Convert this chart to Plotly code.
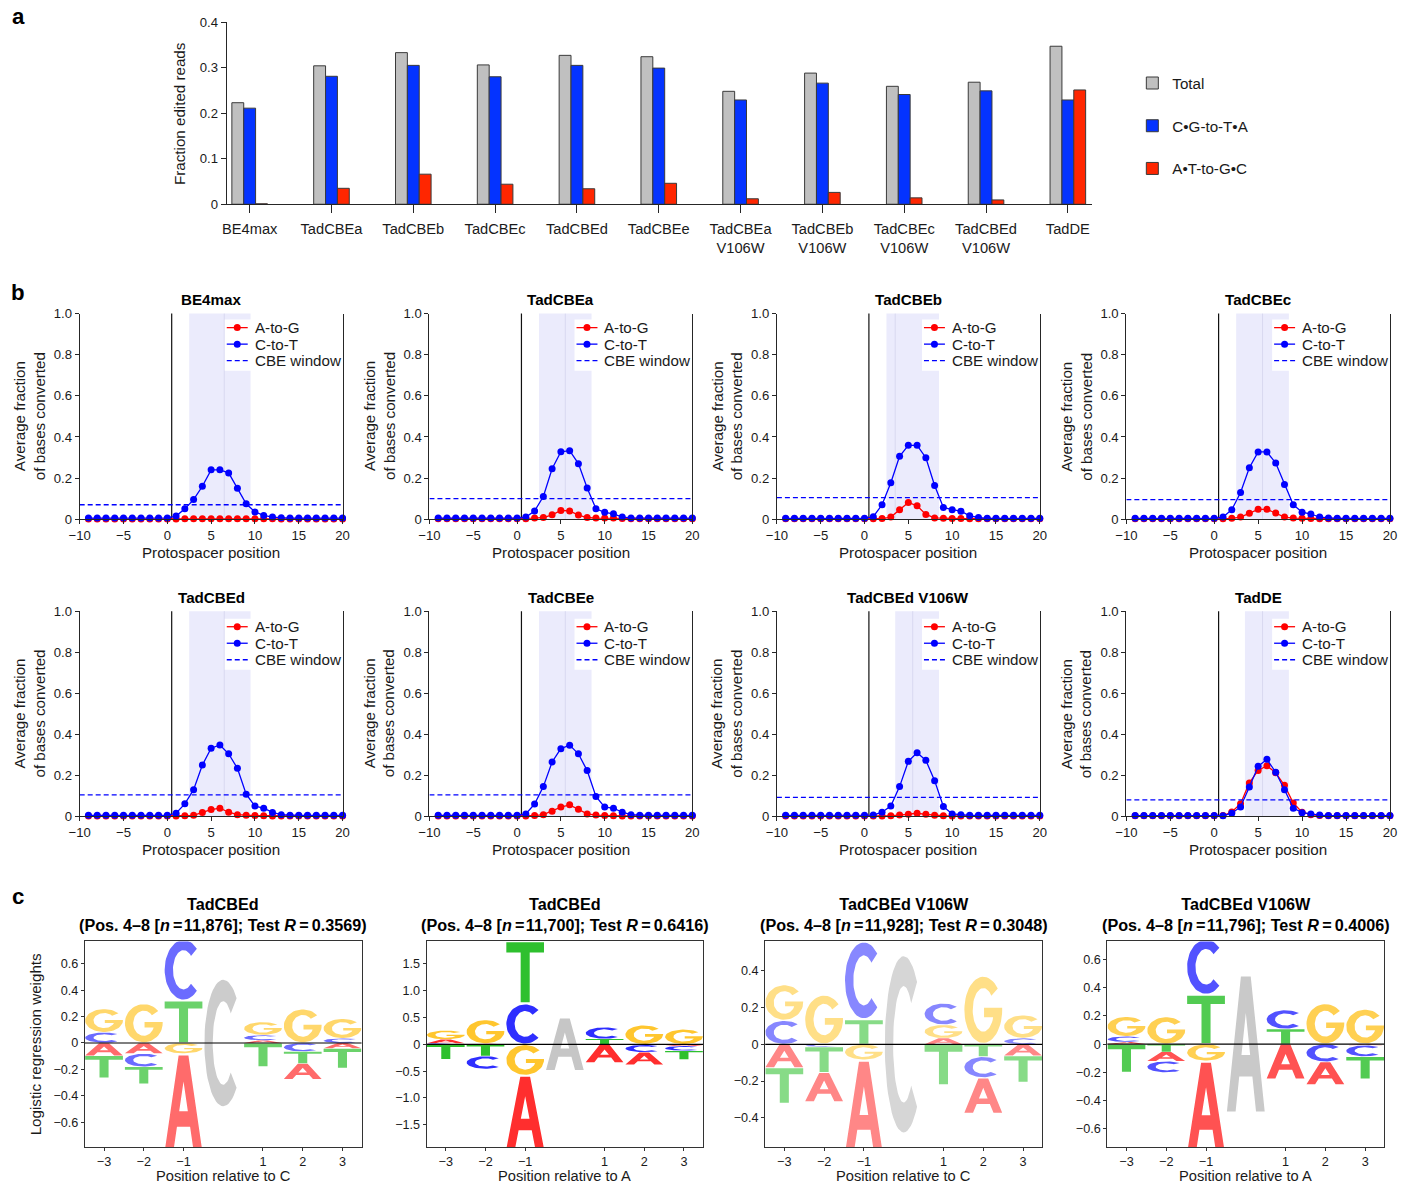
import math
import plotly.graph_objects as go

# The photographed image is the 1411x1191 page seen through a slight shrink
# (page + 8px frame -> 1411x1191); positions below are target image pixels and
# are converted to page/paper coordinates by X() / Y().
W, H = 1411, 1191
FRAME = 8
SX = W / (W + 2 * FRAME)
SY = H / (H + 2 * FRAME)
FS = 1.0 / SX
FONT = "Liberation Sans"
AX = "#262626"
TXT = "#1a1a1a"


def X(t):
    return (t / SX - FRAME) / W


def Y(t):
    return 1 - (t / SY - FRAME) / H


# ---------------- panel a data ----------------
editors_a = ["BE4max", "TadCBEa", "TadCBEb", "TadCBEc", "TadCBEd", "TadCBEe",
             "TadCBEa<br>V106W", "TadCBEb<br>V106W", "TadCBEc<br>V106W",
             "TadCBEd<br>V106W", "TadDE"]
frac_total = [0.223, 0.304, 0.333, 0.306, 0.327, 0.324, 0.248, 0.288, 0.259, 0.268, 0.347]
frac_cg_ta = [0.211, 0.281, 0.305, 0.280, 0.305, 0.299, 0.229, 0.266, 0.241, 0.249, 0.229]
frac_at_gc = [0.001, 0.035, 0.066, 0.044, 0.034, 0.046, 0.012, 0.026, 0.014, 0.0095, 0.251]
a_yticks = [0, 0.1, 0.2, 0.3, 0.4]
a_yticktext = ["0", "0.1", "0.2", "0.3", "0.4"]

# ---------------- panel b data ----------------
positions_b = [-9, -8, -7, -6, -5, -4, -3, -2, -1, 0,
               1, 2, 3, 4, 5, 6, 7, 8, 9, 10,
               11, 12, 13, 14, 15, 16, 17, 18, 19, 20]
b_xrange = [-10, 20]
b_xticks = [-10, -5, 0, 5, 10, 15, 20]
b_yticks = [0, 0.2, 0.4, 0.6, 0.8, 1.0]
b_yticktext = ["0", "0.2", "0.4", "0.6", "0.8", "1.0"]

ctot_be4max = [0.005, 0.005, 0.005, 0.005, 0.005, 0.005, 0.005, 0.005, 0.005, 0.006,
               0.015, 0.05, 0.095, 0.16, 0.24, 0.24, 0.225, 0.15, 0.075, 0.035,
               0.018, 0.01, 0.007, 0.005, 0.005, 0.005, 0.005, 0.005, 0.005, 0.005]
atog_be4max = [0.001, 0.001, 0.001, 0.001, 0.001, 0.001, 0.001, 0.001, 0.001, 0.001,
               0.001, 0.002, 0.002, 0.002, 0.002, 0.002, 0.002, 0.002, 0.002, 0.002,
               0.002, 0.002, 0.001, 0.001, 0.001, 0.001, 0.001, 0.001, 0.001, 0.001]

ctot_tadcbea = [0.005, 0.005, 0.005, 0.005, 0.005, 0.005, 0.005, 0.005, 0.005, 0.005,
                0.01, 0.04, 0.11, 0.245, 0.328, 0.333, 0.27, 0.152, 0.05, 0.033,
                0.026, 0.01, 0.006, 0.005, 0.005, 0.005, 0.005, 0.005, 0.005, 0.005]
atog_tadcbea = [0.002, 0.002, 0.002, 0.002, 0.002, 0.002, 0.002, 0.002, 0.002, 0.002,
                0.002, 0.005, 0.008, 0.021, 0.042, 0.04, 0.02, 0.008, 0.005, 0.005,
                0.005, 0.003, 0.002, 0.002, 0.002, 0.002, 0.002, 0.002, 0.002, 0.002]

ctot_tadcbeb = [0.004, 0.004, 0.004, 0.004, 0.004, 0.004, 0.004, 0.004, 0.004, 0.004,
                0.012, 0.07, 0.177, 0.306, 0.359, 0.359, 0.299, 0.164, 0.057, 0.046,
                0.039, 0.016, 0.008, 0.004, 0.004, 0.004, 0.004, 0.004, 0.004, 0.004]
atog_tadcbeb = [0.002, 0.002, 0.002, 0.002, 0.002, 0.002, 0.002, 0.002, 0.002, 0.002,
                0.002, 0.003, 0.01, 0.046, 0.081, 0.065, 0.023, 0.006, 0.004, 0.003,
                0.003, 0.002, 0.002, 0.002, 0.002, 0.002, 0.002, 0.002, 0.002, 0.002]

ctot_tadcbec = [0.004, 0.004, 0.004, 0.004, 0.004, 0.004, 0.004, 0.004, 0.004, 0.004,
                0.01, 0.046, 0.13, 0.25, 0.327, 0.327, 0.273, 0.168, 0.07, 0.034,
                0.025, 0.01, 0.006, 0.004, 0.004, 0.004, 0.004, 0.004, 0.004, 0.004]
atog_tadcbec = [0.002, 0.002, 0.002, 0.002, 0.002, 0.002, 0.002, 0.002, 0.002, 0.002,
                0.002, 0.004, 0.01, 0.029, 0.048, 0.048, 0.03, 0.01, 0.005, 0.004,
                0.003, 0.002, 0.002, 0.002, 0.002, 0.002, 0.002, 0.002, 0.002, 0.002]

ctot_tadcbed = [0.005, 0.005, 0.005, 0.005, 0.005, 0.005, 0.005, 0.005, 0.005, 0.005,
                0.015, 0.061, 0.13, 0.25, 0.332, 0.348, 0.305, 0.234, 0.108, 0.05,
                0.04, 0.019, 0.008, 0.005, 0.005, 0.005, 0.005, 0.005, 0.005, 0.005]
atog_tadcbed = [0.002, 0.002, 0.002, 0.002, 0.002, 0.002, 0.002, 0.002, 0.002, 0.002,
                0.002, 0.003, 0.005, 0.019, 0.033, 0.04, 0.02, 0.008, 0.005, 0.004,
                0.003, 0.002, 0.002, 0.002, 0.002, 0.002, 0.002, 0.002, 0.002, 0.002]

ctot_tadcbee = [0.005, 0.005, 0.005, 0.005, 0.005, 0.005, 0.005, 0.005, 0.005, 0.005,
                0.012, 0.06, 0.145, 0.265, 0.33, 0.347, 0.305, 0.223, 0.097, 0.045,
                0.04, 0.02, 0.008, 0.005, 0.005, 0.005, 0.005, 0.005, 0.005, 0.005]
atog_tadcbee = [0.002, 0.002, 0.002, 0.002, 0.002, 0.002, 0.002, 0.002, 0.002, 0.002,
                0.002, 0.004, 0.008, 0.025, 0.045, 0.056, 0.035, 0.012, 0.006, 0.004,
                0.003, 0.002, 0.002, 0.002, 0.002, 0.002, 0.002, 0.002, 0.002, 0.002]

ctot_tadcbed_v106w = [0.005, 0.005, 0.005, 0.005, 0.005, 0.005, 0.005, 0.005, 0.005, 0.005,
                      0.006, 0.02, 0.05, 0.145, 0.268, 0.31, 0.273, 0.174, 0.048, 0.012,
                      0.008, 0.005, 0.005, 0.005, 0.005, 0.005, 0.005, 0.005, 0.005, 0.005]
atog_tadcbed_v106w = [0.002, 0.002, 0.002, 0.002, 0.002, 0.002, 0.002, 0.002, 0.002, 0.002,
                      0.002, 0.002, 0.003, 0.006, 0.01, 0.015, 0.01, 0.005, 0.003, 0.002,
                      0.002, 0.002, 0.002, 0.002, 0.002, 0.002, 0.002, 0.002, 0.002, 0.002]

ctot_tadde = [0.004, 0.004, 0.004, 0.004, 0.004, 0.004, 0.004, 0.004, 0.004, 0.004,
              0.003, 0.015, 0.046, 0.143, 0.244, 0.278, 0.215, 0.13, 0.04, 0.018,
              0.012, 0.006, 0.004, 0.004, 0.004, 0.004, 0.004, 0.004, 0.004, 0.004]
atog_tadde = [0.003, 0.003, 0.003, 0.003, 0.003, 0.003, 0.003, 0.003, 0.003, 0.003,
              0.004, 0.021, 0.062, 0.163, 0.224, 0.247, 0.212, 0.151, 0.065, 0.02,
              0.008, 0.004, 0.003, 0.003, 0.003, 0.003, 0.003, 0.003, 0.003, 0.003]

titles_b = ["BE4max", "TadCBEa", "TadCBEb", "TadCBEc",
            "TadCBEd", "TadCBEe", "TadCBEd V106W", "TadDE"]
ctot_b = [ctot_be4max, ctot_tadcbea, ctot_tadcbeb, ctot_tadcbec,
          ctot_tadcbed, ctot_tadcbee, ctot_tadcbed_v106w, ctot_tadde]
atog_b = [atog_be4max, atog_tadcbea, atog_tadcbeb, atog_tadcbec,
          atog_tadcbed, atog_tadcbee, atog_tadcbed_v106w, atog_tadde]
cbe_threshold = [0.07, 0.10, 0.105, 0.095, 0.105, 0.105, 0.092, 0.08]
window_lo = [2.5, 2.5, 2.5, 2.5, 2.5, 2.5, 3.5, 3.5]
window_hi = [9.5, 8.5, 8.5, 8.5, 9.5, 8.5, 8.5, 8.5]
window_mid = [6.5, 5.5, 3.5, 5.5, 6.5, 5.5, 5.5, 5.5]
protospacer_start = 0.5
legend_b_names = ["A-to-G", "C-to-T", "CBE window"]

# ---------------- panel c data ----------------
logo_positions = [-3, -2, -1, 1, 2, 3]
logo1_A = [-0.096, -0.08, -0.76, 0.02, -0.12, -0.04]
logo1_C = [0.08, -0.10, 0.47, 0.04, -0.065, 0.035]
logo1_G = [0.18, 0.30, -0.08, 0.10, 0.26, 0.15]
logo1_T = [-0.17, -0.13, 0.32, -0.18, -0.09, -0.15]

logo2_A = [0.07, 0.01, -1.40, -0.34, -0.23, -0.03]
logo2_C = [0.02, -0.24, 0.76, 0.22, -0.14, -0.09]
logo2_G = [0.17, 0.45, -0.58, 0.0, 0.36, 0.28]
logo2_T = [-0.28, -0.22, 1.17, 0.10, -0.01, -0.16]

logo3_A = [-0.127, -0.16, -0.52, 0.033, -0.195, -0.062]
logo3_C = [0.13, -0.013, 0.43, 0.118, -0.115, 0.033]
logo3_G = [0.195, 0.27, -0.085, 0.073, 0.375, 0.127]
logo3_T = [-0.195, -0.14, 0.133, -0.222, -0.067, -0.145]

logo4_A = [0.015, -0.067, -0.67, -0.25, -0.162, -0.008]
logo4_C = [0.04, -0.08, 0.40, 0.136, -0.126, -0.08]
logo4_G = [0.14, 0.195, -0.12, 0.0, 0.29, 0.25]
logo4_T = [-0.20, -0.055, 0.35, 0.107, 0.0, -0.16]

logo_titles = ["TadCBEd", "TadCBEd", "TadCBEd V106W", "TadCBEd V106W"]
logo_n = ["11,876", "11,700", "11,928", "11,796"]
logo_r = ["0.3569", "0.6416", "0.3048", "0.4006"]
logo_ref_base = ["C", "A", "C", "A"]
logo_ref_half = [0.5, 0.5, 0.5, 0.5]
logo_yrange = [[-0.79, 0.77], [-1.92, 1.92], [-0.56, 0.56], [-0.733, 0.73]]
logo1_yticks = [-0.6, -0.4, -0.2, 0, 0.2, 0.4, 0.6]
logo2_yticks = [-1.5, -1.0, -0.5, 0, 0.5, 1.0, 1.5]
logo3_yticks = [-0.4, -0.2, 0, 0.2, 0.4]
logo4_yticks = [-0.6, -0.4, -0.2, 0, 0.2, 0.4, 0.6]

logos = [
    {"A": logo1_A, "C": logo1_C, "G": logo1_G, "T": logo1_T},
    {"A": logo2_A, "C": logo2_C, "G": logo2_G, "T": logo2_T},
    {"A": logo3_A, "C": logo3_C, "G": logo3_G, "T": logo3_T},
    {"A": logo4_A, "C": logo4_C, "G": logo4_G, "T": logo4_T},
]
logo_yticks = [logo1_yticks, logo2_yticks, logo3_yticks, logo4_yticks]

# ---------------- styles / layout geometry (target image pixels) ----------------
A_DOM_X = (224, 1091)
A_DOM_Y = (23, 205)
B_COLS = [(76.7, 340), (427, 690.3), (775, 1038.3), (1125, 1389)]
B_ROWS = [(314.3, 519.7), (611.7, 816.7)]
B_LEG_DY = [14.0, 15.5]
C_COLS = [(82, 359), (424.3, 701), (763.3, 1040.7), (1106, 1383.3)]
C_ROW = (941.7, 1147.3)

logo_alpha = [0.58, 0.82, 0.47, 0.68]
logo_grey = ["#cccccc", "#c6c6c6", "#d6d6d6", "#c9c9c9"]
base_rgb = {"A": (255, 0, 0), "C": (0, 0, 255), "G": (255, 186, 0), "T": (0, 178, 0)}


def blend(rgb, a):
    return "rgb(%d,%d,%d)" % tuple(round(255 - a * (255 - c)) for c in rgb)


def arc(cx, cy, rx, ry, a0, a1, n=48):
    pts = []
    for i in range(n + 1):
        t = math.radians(a0 + (a1 - a0) * i / n)
        pts.append((cx + rx * math.cos(t), cy + ry * math.sin(t)))
    return pts


GLYPH = {
    "T": [(0, 1), (1, 1), (1, 0.83), (0.62, 0.83), (0.62, 0), (0.38, 0), (0.38, 0.83), (0, 0.83)],
    "A": [(0, 0), (0.37, 1), (0.5, 1), (0.5, 0.73), (0.385, 0.42), (0.615, 0.42), (0.5, 0.73),
          (0.5, 1), (0.63, 1), (1, 0), (0.77, 0), (0.674, 0.26), (0.326, 0.26), (0.23, 0)],
    "C": arc(0.5, 0.5, 0.5, 0.5, 45, 315) + arc(0.5, 0.5, 0.28, 0.33, 315, 45),
    "G": arc(0.5, 0.5, 0.5, 0.5, 40, 360) + [(1.0, 0.53), (0.52, 0.53), (0.52, 0.39), (0.76, 0.39)]
         + arc(0.5, 0.5, 0.28, 0.33, 338, 40),
}
LETTER_W = 0.95
VPAD = 0.02


def glyph_xy(letter, xc, y0, y1, width=LETTER_W):
    h = y1 - y0
    ya, yb = y0 + VPAD * h, y1 - VPAD * h
    xs, ys = [], []
    for u, v in GLYPH[letter]:
        xs.append(xc - width / 2 + width * u)
        ys.append(ya + (yb - ya) * v)
    xs.append(xs[0])
    ys.append(ys[0])
    return xs, ys


def fnt(size, color=TXT):
    return dict(size=size * FS, color=color, family=FONT)


def note(text, x, y, size=15, angle=0, color=TXT, xanchor="center"):
    return dict(text=text, x=X(x), y=Y(y), xref="paper", yref="paper", showarrow=False,
                xanchor=xanchor, yanchor="middle", textangle=angle, font=fnt(size, color))


fig = go.Figure()
layout = {}
annotations = []
shapes = []

# ================= panel a =================
bar_series = [("Total", frac_total, "#c0c0c0", -0.2175),
              ("C•G-to-T•A", frac_cg_ta, "#0433ff", -0.0725),
              ("A•T-to-G•C", frac_at_gc, "#ff2600", 0.0725)]
for name, vals, col, off in bar_series:
    fig.add_trace(go.Bar(
        x=editors_a, y=vals, name=name, width=0.145, offset=off,
        marker=dict(color=col, line=dict(color="#3a3a3a", width=1)),
        legendgroup=name, xaxis="x", yaxis="y", hoverinfo="skip"))

layout["xaxis"] = dict(domain=[X(A_DOM_X[0]), X(A_DOM_X[1])], anchor="y",
                       range=[-0.28, 10.3], showline=True, linecolor=AX, linewidth=1.2,
                       ticks="outside", ticklen=8, tickwidth=1.2, tickcolor=AX,
                       ticklabelstandoff=3,
                       tickfont=fnt(14.5), showgrid=False, zeroline=False)
layout["yaxis"] = dict(domain=[Y(A_DOM_Y[1]), Y(A_DOM_Y[0])], anchor="x",
                       range=[0, 0.4], tickvals=a_yticks, ticktext=a_yticktext,
                       showline=True, linecolor=AX, linewidth=1.2,
                       ticks="outside", ticklen=5, tickwidth=1.2, tickcolor=AX,
                       tickfont=fnt(13), showgrid=False, zeroline=False)
layout["legend"] = dict(x=X(1131), y=Y(67.5), xanchor="left", yanchor="top",
                        font=fnt(15), tracegroupgap=20,
                        itemwidth=30, bgcolor="rgba(0,0,0,0)")
annotations.append(note("Fraction edited reads", 176, 114, size=15, angle=-90))

# ================= panel b =================
for k in range(8):
    idx = k + 2
    xa, ya = "x%d" % idx, "y%d" % idx
    col = B_COLS[k % 4]
    row = B_ROWS[k // 4]
    fig.add_trace(go.Scatter(x=positions_b, y=atog_b[k], mode="lines+markers", name="A-to-G",
                             line=dict(color="#ff0000", width=1.3), marker=dict(size=7, color="#ff0000"),
                             xaxis=xa, yaxis=ya, showlegend=False, cliponaxis=False, hoverinfo="skip"))
    fig.add_trace(go.Scatter(x=positions_b, y=ctot_b[k], mode="lines+markers", name="C-to-T",
                             line=dict(color="#0000ff", width=1.3), marker=dict(size=7, color="#0000ff"),
                             xaxis=xa, yaxis=ya, showlegend=False, cliponaxis=False, hoverinfo="skip"))
    fig.add_trace(go.Scatter(x=b_xrange, y=[cbe_threshold[k], cbe_threshold[k]], mode="lines",
                             name="CBE window", line=dict(color="#0000ff", width=1.3, dash="5px,3px"),
                             xaxis=xa, yaxis=ya, showlegend=False, hoverinfo="skip"))
    common = dict(showline=True, linecolor=AX, linewidth=1.1, ticks="outside", ticklen=4,
                  tickwidth=1.1, tickcolor=AX, tickfont=fnt(13),
                  showgrid=False, zeroline=False)
    layout["xaxis%d" % idx] = dict(domain=[X(col[0]), X(col[1])], anchor=ya, range=b_xrange,
                                   tickvals=b_xticks, **common)
    layout["yaxis%d" % idx] = dict(domain=[Y(row[1]), Y(row[0])], anchor=xa, range=[0, 1],
                                   tickvals=b_yticks, ticktext=b_yticktext, mirror=True, **common)
    # CBE window shading
    shapes.append(dict(type="rect", xref=xa, yref=ya + " domain", x0=window_lo[k], x1=window_hi[k],
                       y0=0, y1=1, fillcolor="#ebebfc", line=dict(width=0), layer="below"))
    shapes.append(dict(type="line", xref=xa, yref=ya + " domain", x0=window_mid[k], x1=window_mid[k],
                       y0=0, y1=1, line=dict(color="#d8d8f0", width=1), layer="below"))
    shapes.append(dict(type="line", xref=xa, yref=ya + " domain", x0=protospacer_start,
                       x1=protospacer_start, y0=0, y1=1, line=dict(color="#111111", width=1.2),
                       layer="below"))
    # legend box (matplotlib style, drawn inside the axes)
    r = col[1]
    t = row[0]
    dy = B_LEG_DY[k // 4]
    shapes.append(dict(type="rect", xref="paper", yref="paper", x0=X(r - 118), x1=X(r - 1.5),
                       y0=Y(t + dy - 8), y1=Y(t + dy + 43), fillcolor="white",
                       line=dict(width=0), layer="above"))
    leg_cols = ["#ff0000", "#0000ff", "#0000ff"]
    for i, lname in enumerate(legend_b_names):
        yy = t + dy + 16.5 * i
        shapes.append(dict(type="line", xref="paper", yref="paper", x0=X(r - 116), x1=X(r - 95),
                           y0=Y(yy), y1=Y(yy), layer="above",
                           line=dict(color=leg_cols[i], width=1.3,
                                     dash="5px,3px" if i == 2 else "solid")))
        if i < 2:
            shapes.append(dict(type="circle", xref="paper", yref="paper", xsizemode="pixel",
                               ysizemode="pixel", xanchor=X(r - 105.5), yanchor=Y(yy),
                               x0=-3.5, x1=3.5, y0=-3.5, y1=3.5, fillcolor=leg_cols[i],
                               line=dict(width=0), layer="above"))
        annotations.append(note(lname, r - 90, yy, size=15, xanchor="left"))
    cx = (col[0] + col[1]) / 2
    annotations.append(note("<b>%s</b>" % titles_b[k], cx, row[0] - 14, size=15, color="#000"))
    annotations.append(note("Protospacer position", cx, row[1] + 33, size=15))
    annotations.append(note("Average fraction<br>of bases converted", col[0] - 50,
                            (row[0] + row[1]) / 2, size=15, angle=-90))

# ================= panel c =================
for p in range(4):
    idx = 10 + p
    xa, ya = "x%d" % idx, "y%d" % idx
    col = C_COLS[p]
    weights = logos[p]
    letter_xy = {L: ([], []) for L in "ACGT"}
    for j, pos in enumerate(logo_positions):
        vals = [(L, weights[L][j]) for L in "ACGT"]
        pos_vals = sorted([v for v in vals if v[1] > 0], key=lambda q: q[1])
        neg_vals = sorted([v for v in vals if v[1] < 0], key=lambda q: -q[1])
        top = 0.0
        for L, v in pos_vals:
            xs, ys = glyph_xy(L, pos, top, top + v)
            letter_xy[L][0].extend(xs + [None])
            letter_xy[L][1].extend(ys + [None])
            top += v
        bot = 0.0
        for L, v in neg_vals:
            xs, ys = glyph_xy(L, pos, bot + v, bot)
            letter_xy[L][0].extend(xs + [None])
            letter_xy[L][1].extend(ys + [None])
            bot += v
    for L in "ACGT":
        xs, ys = letter_xy[L]
        if not xs:
            continue
        fig.add_trace(go.Scatter(x=xs, y=ys, mode="lines", fill="toself",
                                 fillcolor=blend(base_rgb[L], logo_alpha[p]),
                                 line=dict(width=0, color="rgba(0,0,0,0)"),
                                 xaxis=xa, yaxis=ya, showlegend=False, hoverinfo="skip"))
    gx, gy = glyph_xy(logo_ref_base[p], 0, -logo_ref_half[p], logo_ref_half[p])
    fig.add_trace(go.Scatter(x=gx, y=gy, mode="lines", fill="toself", fillcolor=logo_grey[p],
                             line=dict(width=0, color="rgba(0,0,0,0)"),
                             xaxis=xa, yaxis=ya, showlegend=False, hoverinfo="skip"))
    common = dict(showline=True, linecolor="#333333", linewidth=1.1, mirror=True, ticks="outside",
                  ticklen=3, tickwidth=1.1, tickcolor="#333333", tickfont=fnt(12.5),
                  showgrid=False, zeroline=False)
    layout["xaxis%d" % idx] = dict(domain=[X(col[0]), X(col[1])], anchor=ya, range=[-3.48, 3.48],
                                   tickvals=logo_positions, **common)
    yt = logo_yticks[p]
    fmt = "%.1f" if p == 1 else "%g"
    ytext = [(fmt % v).replace("-", "\u2212") if v != 0 else "0" for v in yt]
    layout["yaxis%d" % idx] = dict(domain=[Y(C_ROW[1]), Y(C_ROW[0])], anchor=xa,
                                   range=logo_yrange[p], tickvals=yt, ticktext=ytext, **common)
    shapes.append(dict(type="line", xref=xa + " domain", yref=ya, x0=0, x1=1, y0=0, y1=0,
                       line=dict(color="#000000", width=1.2), layer="above"))
    cx = (col[0] + col[1]) / 2
    title = ("<b>%s<br>(Pos. 4\u20138 [<i>n</i>\u2009=\u200a%s]; Test <i>R</i>\u2009=\u2009%s)</b>"
             % (logo_titles[p], logo_n[p], logo_r[p]))
    annotations.append(note(title, cx, 915, size=16, color="#000"))
    annotations.append(note("Position relative to %s" % logo_ref_base[p], cx, 1176.5, size=14.5))

annotations.append(note("Logistic regression weights", 32, (C_ROW[0] + C_ROW[1]) / 2,
                        size=15, angle=-90))

# panel letters
for letter, (lx, ly) in zip(["a", "b", "c"], [(15, 17), (15, 293), (15, 897)]):
    annotations.append(note("<b>%s</b>" % letter, lx, ly, size=22, color="#000"))

fig.update_layout(
    width=W, height=H, margin=dict(l=0, r=0, t=0, b=0),
    paper_bgcolor="white", plot_bgcolor="white",
    font=dict(family=FONT, color=TXT),
    barmode="overlay", showlegend=True,
    annotations=annotations, shapes=shapes, **layout)

fig.write_html("out.html", config={"displayModeBar": False},
               post_script="document.body.style.margin='0';")
